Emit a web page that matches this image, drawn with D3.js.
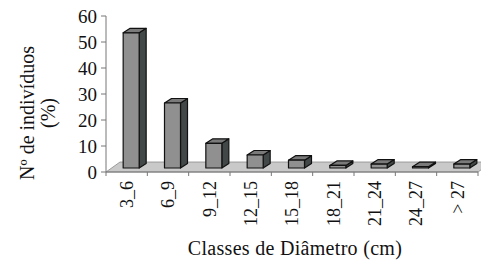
<!DOCTYPE html>
<html>
<head>
<meta charset="utf-8">
<script src="https://cdn.jsdelivr.net/npm/d3@7"></script>
<style>
  body { margin: 0; background: #fff; }
  text { font-family: "Liberation Serif", "Times New Roman", serif; fill: #111; }
</style>
</head>
<body>
<svg width="481" height="260"></svg>
<script>
const categories = ["3_6", "6_9", "9_12", "12_15", "15_18", "18_21", "21_24", "24_27", "> 27"];
const values = [52, 25, 9.5, 5, 3, 1, 1.5, 0.5, 1.5];
const yTicks = [0, 10, 20, 30, 40, 50, 60];
const yTitle = ["Nº de indivíduos", "(%)"];
const xTitle = "Classes de Diâmetro (cm)";

const svg = d3.select("svg");

const x = d3.scaleBand().domain(categories).range([106, 478]);
const y = d3.scaleLinear().domain([0, 60]).range([172, 16]);

// 3d offsets
const floorDepth = { dx: 14, dy: -10 };
const barPos = { dx: 4.5, dy: -4 };
const barDepth = { dx: 7, dy: -4.5 };
const barW = 16;

// floor
const y0 = y(0);
svg.append("polygon")
  .attr("points", [
    [x.range()[0], y0],
    [x.range()[0] + floorDepth.dx, y0 + floorDepth.dy],
    [x.range()[1] + floorDepth.dx, y0 + floorDepth.dy],
    [x.range()[1], y0]
  ].map(p => p.join(",")).join(" "))
  .attr("fill", "#c9c9c9")
  .attr("stroke", "#8a8a8a")
  .attr("stroke-width", 0.8);

// axes
svg.append("line")
  .attr("x1", 106).attr("x2", 106)
  .attr("y1", y(60)).attr("y2", y0)
  .attr("stroke", "#777");
svg.append("line")
  .attr("x1", 106).attr("x2", 478)
  .attr("y1", y0).attr("y2", y0)
  .attr("stroke", "#777");

svg.selectAll(".ytick")
  .data(yTicks)
  .enter()
  .append("line")
  .attr("x1", 101).attr("x2", 106)
  .attr("y1", d => y(d)).attr("y2", d => y(d))
  .attr("stroke", "#777");

svg.selectAll(".ylab")
  .data(yTicks)
  .enter()
  .append("text")
  .attr("x", 97)
  .attr("y", d => y(d))
  .attr("dy", "0.35em")
  .attr("text-anchor", "end")
  .style("font-size", "19px")
  .text(d => d);

// x ticks at band boundaries
svg.selectAll(".xtick")
  .data(categories.map(c => x(c)).concat([x.range()[1]]))
  .enter()
  .append("line")
  .attr("x1", d => d).attr("x2", d => d)
  .attr("y1", y0).attr("y2", y0 + 4)
  .attr("stroke", "#777");

svg.selectAll(".xlab")
  .data(categories)
  .enter()
  .append("text")
  .attr("transform", d => `translate(${x(d) + x.bandwidth() / 2},181) rotate(-90)`)
  .attr("dy", "0.35em")
  .attr("text-anchor", "end")
  .style("font-size", "18px")
  .text(d => d);

// bars
const bars = svg.selectAll(".bar")
  .data(categories.map((c, i) => ({ c, v: values[i] })))
  .enter()
  .append("g");

bars.each(function(d) {
  const g = d3.select(this);
  const x0 = x(d.c) + (x.bandwidth() - barW) / 2 + barPos.dx;
  const bot = y(0) + barPos.dy;
  const top = y(d.v) + barPos.dy;
  const pts = a => a.map(p => p.join(",")).join(" ");
  g.append("polygon")
    .attr("points", pts([[x0 + barW, bot], [x0 + barW + barDepth.dx, bot + barDepth.dy],
      [x0 + barW + barDepth.dx, top + barDepth.dy], [x0 + barW, top]]))
    .attr("fill", "#424848");
  g.append("polygon")
    .attr("points", pts([[x0, top], [x0 + barDepth.dx, top + barDepth.dy],
      [x0 + barW + barDepth.dx, top + barDepth.dy], [x0 + barW, top]]))
    .attr("fill", "#7a7a7a");
  g.append("rect")
    .attr("x", x0).attr("y", top)
    .attr("width", barW).attr("height", bot - top)
    .attr("fill", "#909090");
  g.selectAll("polygon, rect")
    .attr("stroke", "#111")
    .attr("stroke-width", 1.2)
    .attr("stroke-linejoin", "round");
});

// titles
svg.selectAll(".ytitle")
  .data(yTitle)
  .enter()
  .append("text")
  .attr("transform", (d, i) => `translate(${27 + i * 21},113) rotate(-90)`)
  .attr("dy", "0.35em")
  .attr("text-anchor", "middle")
  .style("font-size", "20px")
  .text(d => d);

svg.append("text")
  .attr("x", 295)
  .attr("y", 255)
  .attr("text-anchor", "middle")
  .style("font-size", "20px")
  .style("letter-spacing", "0.3px")
  .text(xTitle);
</script>
</body>
</html>
